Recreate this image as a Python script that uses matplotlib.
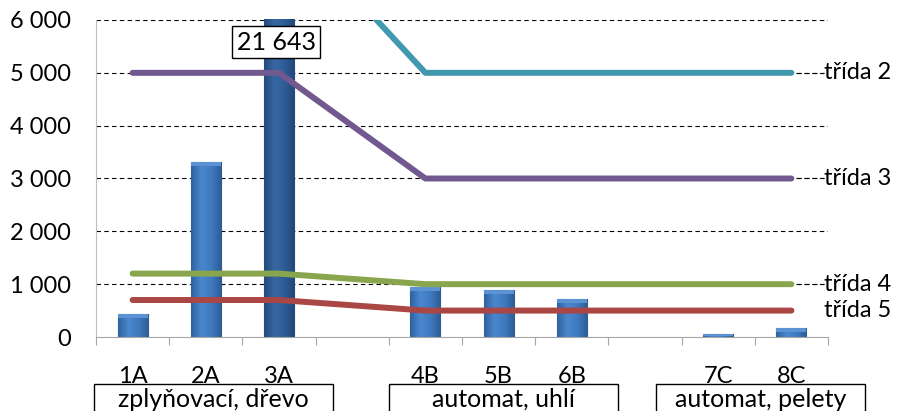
import numpy as np
import matplotlib
matplotlib.use('Agg')
import matplotlib.pyplot as plt
import matplotlib.transforms as mtransforms
from matplotlib.patches import Rectangle
from matplotlib.colors import LinearSegmentedColormap

plt.rcParams['font.family'] = ['Lato', 'DejaVu Sans']

# category slots (empty strings are the gaps between groups)
labels = ['1A', '2A', '3A', '', '4B', '5B', '6B', '', '7C', '8C']
values = [430, 3320, 21643, np.nan, 950, 890, 720, np.nan, 55, 170]

# emission class limits for the real categories only
cls_names = ['třída 2', 'třída 3', 'třída 4', 'třída 5']
cls_2 = [8000, 8000, 8000, 5000, 5000, 5000, 5000, 5000]
cls_3 = [5000, 5000, 5000, 3000, 3000, 3000, 3000, 3000]
cls_4 = [1200, 1200, 1200, 1000, 1000, 1000, 1000, 1000]
cls_5 = [700, 700, 700, 500, 500, 500, 500, 500]
cls_colors = ['#4198AF', '#71588F', '#89A54E', '#AA4643']
cls_leader = [True, True, True, False]

groups = ['zplyňovací, dřevo', 'automat, uhlí', 'automat, pelety']
group_span = [(-0.53, 2.74), (3.5, 6.63), (7.15, 10.0)]

yticks = [0, 1000, 2000, 3000, 4000, 5000, 6000]

fig = plt.figure(figsize=(8.98, 4.11), dpi=100)
ax = fig.add_axes([96 / 898, 1 - 337 / 411, 732 / 898, 317 / 411])

x = np.arange(len(labels))
xc = [i for i, l in enumerate(labels) if l]

bars = ax.bar(x, values, width=0.41, color='none', edgecolor='#2a5385',
              linewidth=0.8, zorder=2)

# bevel-like shading of the bars
cm_light = LinearSegmentedColormap.from_list(
    'b1', ['#3062a0', '#4a87ce', '#3f7ac0', '#2d5b94'])
cm_dark = LinearSegmentedColormap.from_list(
    'b2', ['#234b7c', '#3767a3', '#2f5c95', '#22477a'])
grad = np.linspace(0, 1, 64).reshape(1, -1)
for i, b in enumerate(bars):
    if np.isnan(values[i]):
        continue
    x0 = b.get_x()
    w = b.get_width()
    h = min(values[i], 6000)
    im = ax.imshow(grad, cmap=cm_dark if i == 2 else cm_light, aspect='auto',
                   extent=(x0, x0 + w, 0, h), zorder=2, interpolation='bicubic')
    im.set_clip_path(b)
    # lighter top face
    if values[i] < 6000:
        cap = min(75, h * 0.5)
        ax.add_patch(Rectangle((x0, h - cap), w, cap, fc='#5b92d3',
                               ec='none', zorder=2.5))

ax.set_xlim(-0.5, 9.5)
ax.set_ylim(0, 6000)

series = [cls_2, cls_3, cls_4, cls_5]
for vals, col, name, lead in zip(series, cls_colors, cls_names, cls_leader):
    ax.plot(xc, vals, color=col, lw=4.3, solid_capstyle='round',
            solid_joinstyle='round', zorder=4)
    yv = vals[-1]
    if lead:
        ax.plot([xc[-1] + 0.07, 9.44], [yv, yv], color='black', lw=0.8,
                ls=(0, (4, 3)), clip_on=False, zorder=3)
    ax.text(9.45, yv, name, ha='left', va='center', fontsize=17,
            clip_on=False)

# label for the clipped bar
ax.text(1.96, 5580, '21 643', ha='center', va='center', fontsize=18, zorder=6,
        bbox=dict(boxstyle='square,pad=0.18', fc='white', ec='black', lw=1))

ax.set_yticks(yticks)
ax.set_yticklabels([f'{v:,}'.replace(',', ' ') for v in yticks])
ax.set_xticks(x)
ax.set_xticklabels(labels)
ax.set_xticks(np.arange(-0.5, 10, 1), minor=True)
ax.tick_params(axis='x', which='major', length=0, pad=21, labelsize=17)
ax.tick_params(axis='x', which='minor', length=6, color='#a6a6a6',
               width=0.8)
ax.tick_params(axis='y', length=0, pad=18, labelsize=17)

for y in yticks[1:]:
    ax.axhline(y, color='black', lw=0.8, ls=(0, (4, 3)), zorder=1)

for s in ['top', 'right']:
    ax.spines[s].set_visible(False)
ax.spines['left'].set_color('#bfbfbf')
ax.spines['bottom'].set_color('#a6a6a6')
ax.spines['left'].set_linewidth(0.8)
ax.spines['bottom'].set_linewidth(0.8)

# group boxes under the category labels
trans = mtransforms.blended_transform_factory(ax.transData, fig.transFigure)
box_top = 1 - 384 / 411
for name, (x0, x1) in zip(groups, group_span):
    r = Rectangle((x0, -0.05), x1 - x0, box_top + 0.05, transform=trans,
                  fill=False, ec='black', lw=1, clip_on=False)
    ax.add_patch(r)
    ax.text((x0 + x1) / 2, 1 - 399 / 411, name, transform=trans,
            ha='center', va='center', fontsize=18, clip_on=False)

fig.savefig('out.png', dpi=100)
